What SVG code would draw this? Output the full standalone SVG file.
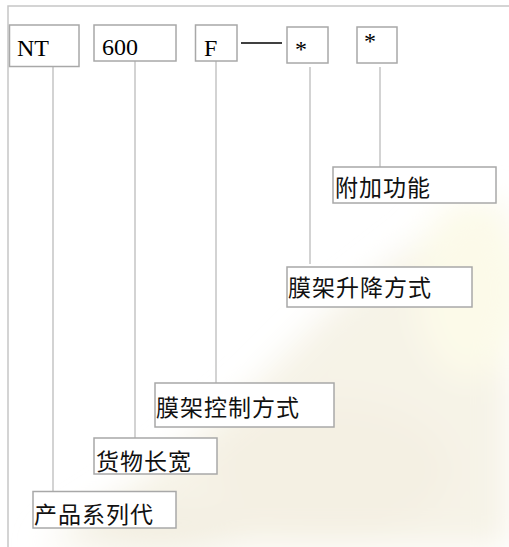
<svg xmlns="http://www.w3.org/2000/svg" width="509" height="547" viewBox="0 0 509 547">
  <defs>
    <filter id="blur" x="-20%" y="-20%" width="140%" height="140%">
      <feGaussianBlur stdDeviation="16"/>
    </filter>
    <style>
      .frame { stroke: #c6c6c6; stroke-width: 1.5; fill: none; }
      .box { fill: #ffffff; stroke: #a8a8a8; stroke-width: 1.5; }
      .code { font-family: "Liberation Serif", "Times New Roman", serif; font-size: 24px; fill: #000000; }
      .label { font-family: "Noto Sans CJK SC", "Noto Sans", sans-serif; font-size: 23px; letter-spacing: 1px; fill: #111111; }
      .conn { stroke: #c4c4c4; stroke-width: 1.5; fill: none; }
      .dash { stroke: #000000; stroke-width: 1.5; fill: none; }
    </style>
  </defs>

  <rect x="0" y="0" width="509" height="547" fill="#ffffff"/>

  <!-- faint watermark -->
  <g id="watermark" filter="url(#blur)">
    <polygon points="40,547 140,480 250,390 330,310 420,240 509,200 509,547" fill="#f6f3e7"/>
    <ellipse cx="470" cy="290" rx="55" ry="90" fill="#fcfae9"/>
    <ellipse cx="330" cy="470" rx="120" ry="70" fill="#f4f0e3"/>
    <ellipse cx="160" cy="530" rx="90" ry="25" fill="#f3efe2"/>
  </g>

  <!-- frame -->
  <path class="frame" d="M8,547 V6 H509"/>

  <!-- connectors -->
  <g id="connectors">
    <line class="dash" x1="241" y1="43" x2="282" y2="43"/>
    <line class="conn" x1="53" y1="61" x2="53" y2="491"/>
    <line class="conn" x1="135" y1="61" x2="135" y2="438"/>
    <line class="conn" x1="216" y1="61" x2="216" y2="383"/>
    <line class="conn" x1="310" y1="67" x2="310" y2="264"/>
    <line class="conn" x1="380" y1="67" x2="380" y2="167"/>
  </g>

  <!-- code boxes -->
  <g id="nt">
    <rect class="box" x="9.5" y="25" width="69.5" height="41.5"/>
    <text class="code" x="17" y="56">NT</text>
  </g>
  <g id="n600">
    <rect class="box" x="94" y="25" width="82" height="36"/>
    <text class="code" x="102" y="55">600</text>
  </g>
  <g id="f">
    <rect class="box" x="195.5" y="25" width="41.5" height="36"/>
    <text class="code" x="204" y="56">F</text>
  </g>
  <g id="star1">
    <rect class="box" x="287" y="27" width="41" height="36"/>
    <text class="code" x="295" y="57">*</text>
  </g>
  <g id="star2">
    <rect class="box" x="357" y="27" width="40" height="36"/>
    <text class="code" x="364" y="49">*</text>
  </g>

  <!-- label boxes -->
  <g id="fujia">
    <rect class="box" x="333" y="167" width="163" height="36"/>
    <text class="label" x="335" y="196">附加功能</text>
  </g>
  <g id="shengjiang">
    <rect class="box" x="287" y="267" width="185" height="40"/>
    <text class="label" x="288" y="296">膜架升降方式</text>
  </g>
  <g id="kongzhi">
    <rect class="box" x="155" y="383" width="179" height="44"/>
    <text class="label" x="156" y="416">膜架控制方式</text>
  </g>
  <g id="huowu">
    <rect class="box" x="94" y="438" width="123" height="36"/>
    <text class="label" x="96" y="470">货物长宽</text>
  </g>
  <g id="chanpin">
    <rect class="box" x="33" y="491.5" width="143" height="36.5"/>
    <text class="label" x="34" y="523">产品系列代</text>
  </g>
</svg>
